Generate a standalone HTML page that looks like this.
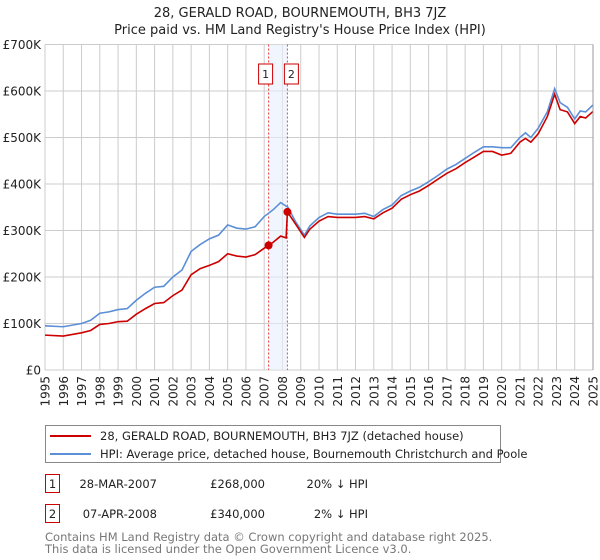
<!DOCTYPE html>
<html><head><meta charset="utf-8"><style>
body{margin:0;background:#fff;font-family:"Liberation Sans","DejaVu Sans",sans-serif;}
svg{display:block}
</style></head><body>
<svg width="600" height="560" xmlns="http://www.w3.org/2000/svg" font-family="DejaVu Sans, Liberation Sans, sans-serif">
<text x="300" y="17" text-anchor="middle" font-size="13" fill="#222">28, GERALD ROAD, BOURNEMOUTH, BH3 7JZ</text>
<text x="300" y="34" text-anchor="middle" font-size="13" fill="#222">Price paid vs. HM Land Registry's House Price Index (HPI)</text>
<g id="grid"></g>
<g id="marks"></g>
<g id="axes" font-size="12" fill="#222"></g>
<g>
<rect x="45.5" y="425.5" width="455" height="37" fill="#fff" stroke="#888"/>
<line x1="50" y1="436" x2="91" y2="436" stroke="#cc0000" stroke-width="2"/>
<text x="100" y="440" font-size="11.5" fill="#222">28, GERALD ROAD, BOURNEMOUTH, BH3 7JZ (detached house)</text>
<line x1="50" y1="454" x2="91" y2="454" stroke="#5b8fd6" stroke-width="2"/>
<text x="100" y="458" font-size="11.5" fill="#222">HPI: Average price, detached house, Bournemouth Christchurch and Poole</text>
</g>
<g font-size="11.5" fill="#222">
<rect x="45.5" y="474.5" width="14" height="18" fill="#fff" stroke="#cc0000"/>
<text x="52.5" y="488" text-anchor="middle">1</text>
<text x="157" y="488" text-anchor="end">28-MAR-2007</text>
<text x="265" y="488" text-anchor="end">£268,000</text>
<text x="368" y="488" text-anchor="end">20% ↓ HPI</text>
<rect x="45.5" y="504.5" width="14" height="18" fill="#fff" stroke="#cc0000"/>
<text x="52.5" y="518" text-anchor="middle">2</text>
<text x="157" y="518" text-anchor="end">07-APR-2008</text>
<text x="265" y="518" text-anchor="end">£340,000</text>
<text x="368" y="518" text-anchor="end">2% ↓ HPI</text>
</g>
<text x="45" y="541" font-size="11.5" fill="#777">Contains HM Land Registry data © Crown copyright and database right 2025.</text>
<text x="45" y="553" font-size="11.5" fill="#777">This data is licensed under the Open Government Licence v3.0.</text>
</svg>
<script>
const yTicks=[0,100,200,300,400,500,600,700];
const yTickLabels=["£0","£100K","£200K","£300K","£400K","£500K","£600K","£700K"];
const xTicks=[1995,1996,1997,1998,1999,2000,2001,2002,2003,2004,2005,2006,2007,2008,2009,2010,2011,2012,2013,2014,2015,2016,2017,2018,2019,2020,2021,2022,2023,2024,2025];
const hpiYears=[1995,1996,1997,1997.5,1998,1998.5,1999,1999.5,2000,2000.5,2001,2001.5,2002,2002.5,2003,2003.5,2004,2004.5,2005,2005.5,2006,2006.5,2007,2007.5,2007.9,2008.3,2008.7,2009.2,2009.5,2010,2010.5,2011,2012,2012.5,2013,2013.5,2014,2014.5,2015,2015.5,2016,2016.5,2017,2017.5,2018,2018.5,2019,2019.5,2020,2020.5,2021,2021.3,2021.6,2022,2022.5,2022.9,2023.2,2023.6,2024,2024.3,2024.6,2025];
const hpiValues=[95,93,100,107,122,125,130,132,150,165,178,180,200,215,255,270,282,290,312,305,303,308,330,345,360,350,320,290,310,328,338,335,335,337,330,345,355,375,385,393,405,418,432,442,455,468,480,480,478,478,500,510,500,520,555,605,575,565,540,557,555,570];
const priceYears=[1995,1996,1997,1997.5,1998,1998.5,1999,1999.5,2000,2000.5,2001,2001.5,2002,2002.5,2003,2003.5,2004,2004.5,2005,2005.5,2006,2006.5,2007,2007.24,2007.5,2007.9,2008.2,2008.27,2008.7,2009.2,2009.5,2010,2010.5,2011,2012,2012.5,2013,2013.5,2014,2014.5,2015,2015.5,2016,2016.5,2017,2017.5,2018,2018.5,2019,2019.5,2020,2020.5,2021,2021.3,2021.6,2022,2022.5,2022.9,2023.2,2023.6,2024,2024.3,2024.6,2025];
const priceValues=[75,73,80,85,98,100,104,105,120,132,143,145,160,172,205,218,225,233,250,245,243,248,262,268,275,288,284,340,315,285,303,320,330,328,328,330,325,338,348,367,377,385,397,410,423,433,446,458,470,470,462,466,490,498,490,508,545,593,560,555,530,545,542,556];
const saleYears=[2007.24,2008.27];
const saleValues=[268,340];
const saleLabels=["1","2"];

const NS="http://www.w3.org/2000/svg";
const X0=45,X1=593,Y0=370,Y1=44.5;
const xs=y=>X0+(y-1995)/(2025-1995)*(X1-X0);
const ys=v=>Y0-v/700*(Y0-Y1);
function mk(tag,attrs,parent){const e=document.createElementNS(NS,tag);for(const k in attrs)e.setAttribute(k,attrs[k]);parent.appendChild(e);return e;}
const grid=document.getElementById('grid'),marks=document.getElementById('marks'),axes=document.getElementById('axes');
yTicks.forEach((t,i)=>{
  const l=mk('line',{x1:X0,x2:X1,y1:ys(t),y2:ys(t),stroke:'#ccc','stroke-width':1},grid);
  
  
  const tx=mk('text',{x:41,y:ys(t)+4.5,'text-anchor':'end'},axes);
  tx.textContent=yTickLabels[i];
  
  
});
xTicks.forEach(t=>{
  const l=mk('line',{x1:xs(t),x2:xs(t),y1:Y1,y2:Y0,stroke:'#ccc','stroke-width':1},grid);
  
  
  const tx=mk('text',{x:0,y:0,'text-anchor':'end',transform:`translate(${xs(t)+4.5},${Y0+6}) rotate(-90)`},axes);
  tx.textContent=t;
  
  
});
const band=mk('rect',{x:xs(saleYears[0]),y:Y1,width:xs(saleYears[1])-xs(saleYears[0]),height:Y0-Y1,fill:'#e8eefc',opacity:0.6},marks);


saleYears.forEach((y,i)=>{
  const l=mk('line',{x1:xs(y),x2:xs(y),y1:Y1,y2:Y0,stroke:'#ee4444','stroke-dasharray':'2,2','stroke-width':1},marks);
  
  
  const bx=xs(y)-(i===0?10:3);
  const r=mk('rect',{x:bx,y:64,width:14,height:20,fill:'#fff',stroke:'#cc0000'},marks);
  
  
  const t=mk('text',{x:bx+7,y:78,'text-anchor':'middle','font-size':11,fill:'#222'},marks);
  t.textContent=saleLabels[i];
  
  
});
const hp=mk('polyline',{points:hpiYears.map((y,i)=>xs(y)+','+ys(hpiValues[i])).join(' '),fill:'none',stroke:'#5b8fd6','stroke-width':1.6},marks);


const pp=mk('polyline',{points:priceYears.map((y,i)=>xs(y)+','+ys(priceValues[i])).join(' '),fill:'none',stroke:'#cc0000','stroke-width':1.6},marks);


saleYears.forEach((y,i)=>{
  const c=mk('circle',{cx:xs(y),cy:ys(saleValues[i]),r:4,fill:'#cc0000'},marks);
  
  
});
const ax=mk('line',{x1:X1,x2:X1,y1:Y1,y2:Y0,stroke:'#999'},marks);


</script>
</body></html>
